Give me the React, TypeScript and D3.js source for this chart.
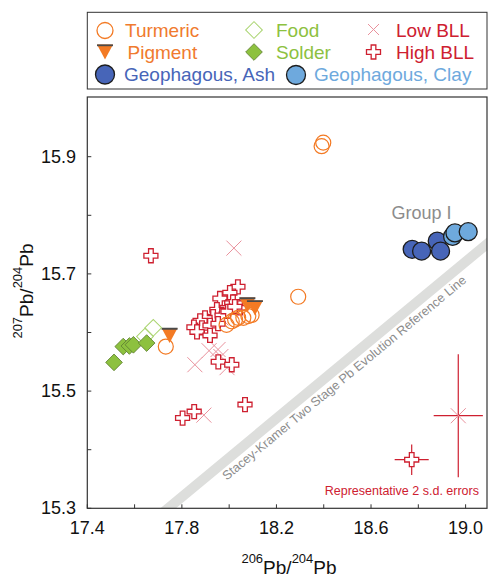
import React from 'react';
import * as d3 from 'd3';

const W = 488;
const H = 578;

const xTickValues = [17.4, 17.6, 17.8, 18.0, 18.2, 18.4, 18.6, 18.8, 19.0];
const xTickLabels = [17.4, 17.8, 18.2, 18.6, 19.0];
const yTickValues = [15.3, 15.4, 15.5, 15.6, 15.7, 15.8, 15.9];
const yTickLabels = [15.3, 15.5, 15.7, 15.9];

const turmeric: [number, number][] = [
  [18.398, 15.924], [18.391, 15.918], [18.292, 15.661], [17.732, 15.576],
  [17.989, 15.613], [18.011, 15.619], [18.025, 15.622], [18.038, 15.625],
  [18.06, 15.625], [18.081, 15.628], [18.095, 15.63],
];
const pigment: [number, number][] = [
  [18.077, 15.647], [18.109, 15.642], [17.748, 15.595],
];
const food: [number, number][] = [
  [17.679, 15.608], [17.644, 15.593],
];
const solder: [number, number][] = [
  [17.513, 15.549], [17.552, 15.576], [17.578, 15.577], [17.595, 15.579], [17.651, 15.582],
];
const lowBLL: [number, number][] = [
  [18.02, 15.744], [17.855, 15.545], [17.915, 15.569], [17.953, 15.571],
  [17.965, 15.559], [17.991, 15.54], [17.893, 15.459], [17.965, 15.625],
];
const highBLL: [number, number][] = [
  [17.669, 15.731], [17.954, 15.55], [18.011, 15.545], [18.067, 15.477],
  [17.803, 15.454], [17.852, 15.465],
  [18.037, 15.678], [18.003, 15.668], [17.961, 15.658], [18.016, 15.652],
  [18.046, 15.642], [17.991, 15.642], [17.948, 15.639], [17.932, 15.627],
  [17.97, 15.629], [17.898, 15.625], [17.877, 15.62], [17.851, 15.609],
  [17.885, 15.608], [17.919, 15.612], [17.953, 15.615], [17.864, 15.601],
  [17.919, 15.595], [17.995, 15.636], [18.024, 15.644],
];
const geoAsh: [number, number][] = [
  [18.774, 15.742], [18.814, 15.739], [18.88, 15.756], [18.894, 15.739],
];
const geoClay: [number, number][] = [
  [18.945, 15.764], [18.955, 15.77], [19.011, 15.772],
];
// representative 2 s.d. errors: [x, y, errX, errY]
const errLow: [number, number, number, number] = [18.969, 15.458, 0.104, 0.105];
const errHigh: [number, number, number, number] = [18.772, 15.383, 0.072, 0.026];
// Stacey-Kramer reference line endpoints
const skLine: [number, number][] = [[17.7, 15.286], [19.15, 15.771]];

const C = {
  orange: '#F37A24',
  orangeText: '#F07A2E',
  green: '#8DC13F',
  greenLight: '#A9D46F',
  red: '#CE2030',
  pink: '#E9919C',
  ash: '#4765B8',
  clay: '#6EA9DD',
  gray: '#8C8C8C',
  band: '#DDDEDC',
};

const FONT = '"Liberation Sans", Arial, Helvetica, sans-serif';

const L = { left: 87.3, right: 487, top: 97, bottom: 508.3 };

const x = d3.scaleLinear().domain([17.4, 19.0]).range([87.3, 465.6]);
const y = d3.scaleLinear().domain([15.3, 15.9]).range([508.3, 156.7]);

const crossPath = d3.symbol(d3.symbolCross, 109)() as string;
const squarePath = d3.symbol(d3.symbolSquare, 139)() as string;
const timesPath = (s: number) => `M${-s},${-s}L${s},${s}M${-s},${s}L${s},${-s}`;
const triPath = (w: number, h: number) => `M${-w / 2},${-h / 2}L${w / 2},${-h / 2}L0,${h / 2}Z`;

function Circle({ cx, cy, r, fill, stroke, sw }: any) {
  return <circle cx={cx} cy={cy} r={r} fill={fill} stroke={stroke} strokeWidth={sw} />;
}

function Triangle({ cx, cy }: { cx: number; cy: number }) {
  const w = 16, h = 15;
  return (
    <g transform={`translate(${cx},${cy})`}>
      <path d={triPath(w, h)} fill={C.orange} />
      <line x1={-w / 2} x2={w / 2} y1={-h / 2 + 0.8} y2={-h / 2 + 0.8} stroke="#4a4a4a" strokeWidth={1.8} />
    </g>
  );
}

function Diamond({ cx, cy, filled }: { cx: number; cy: number; filled: boolean }) {
  return (
    <path
      d={squarePath}
      transform={`translate(${cx},${cy}) rotate(45)`}
      fill={filled ? C.green : 'none'}
      stroke={filled ? '#5f7f32' : C.greenLight}
      strokeWidth={filled ? 0.8 : 1}
    />
  );
}

function Cross({ cx, cy }: { cx: number; cy: number }) {
  return <path d={crossPath} transform={`translate(${cx},${cy})`} fill="#fff" stroke={C.red} strokeWidth={1.3} />;
}

function Times({ cx, cy, s = 8 }: { cx: number; cy: number; s?: number }) {
  return <path d={timesPath(s)} transform={`translate(${cx},${cy})`} stroke={C.pink} strokeWidth={1} fill="none" />;
}

export default function App() {
  const skAngle = (Math.atan2(y(skLine[1][1]) - y(skLine[0][1]), x(skLine[1][0]) - x(skLine[0][0])) * 180) / Math.PI;
  return (
    <svg
      width={W}
      height={H}
      style={{ position: 'absolute', left: 0, top: 0, background: '#fff' }}
      fontFamily={FONT}
    >
      <defs>
        <clipPath id="plotClip">
          <rect x={L.left} y={L.top} width={L.right - L.left} height={L.bottom - L.top} />
        </clipPath>
      </defs>

      {/* Legend */}
      <rect x={87.3} y={12.3} width={487 - 87.3} height={76.7} fill="#fff" stroke="#333" strokeWidth={1} />
      <Circle cx={105} cy={30.5} r={8} fill="none" stroke={C.orange} sw={1.3} />
      <text x={125} y={36.5} fontSize={19} fill={C.orangeText}>Turmeric</text>
      <Triangle cx={105} cy={52} />
      <text x={127.5} y={59} fontSize={19} fill={C.orangeText}>Pigment</text>
      <Circle cx={105} cy={74.5} r={9.5} fill={C.ash} stroke="#1d1d1d" sw={1.3} />
      <text x={124} y={81} fontSize={19} fill={C.ash}>Geophagous, Ash</text>

      <Diamond cx={254} cy={30} filled={false} />
      <text x={276} y={36.5} fontSize={19} fill={C.green}>Food</text>
      <Diamond cx={254} cy={52} filled={true} />
      <text x={276} y={59} fontSize={19} fill={C.green}>Solder</text>
      <Circle cx={296} cy={75} r={9.5} fill={C.clay} stroke="#1d1d1d" sw={1.3} />
      <text x={314} y={81} fontSize={19} fill={C.clay}>Geophagous, Clay</text>

      <Times cx={373.5} cy={29.5} s={5.5} />
      <text x={396} y={36.5} fontSize={19} fill={C.red}>Low BLL</text>
      <Cross cx={373.5} cy={52} />
      <text x={396} y={59} fontSize={19} fill={C.red}>High BLL</text>

      {/* Plot area */}
      <g clipPath="url(#plotClip)">
        <line
          x1={x(skLine[0][0])}
          y1={y(skLine[0][1])}
          x2={x(skLine[1][0])}
          y2={y(skLine[1][1])}
          stroke={C.band}
          strokeWidth={10}
        />
      </g>
      <text
        transform={`translate(${x(17.99)},${y(15.347)}) rotate(${skAngle})`}
        fontSize={12.7}
        fill={C.gray}
      >
        Stacey-Kramer Two Stage Pb Evolution Reference Line
      </text>
      <text x={x(18.687)} y={y(15.794)} fontSize={18} fill={C.gray}>Group I</text>

      {/* frame */}
      <rect x={L.left} y={L.top} width={L.right - L.left} height={L.bottom - L.top} fill="none" stroke="#333" strokeWidth={1.2} />

      {/* ticks */}
      {xTickValues.map((v) => (
        <line key={'xt' + v} x1={x(v)} x2={x(v)} y1={L.bottom} y2={L.bottom - 4} stroke="#333" strokeWidth={1} />
      ))}
      {yTickValues.map((v) => (
        <line key={'yt' + v} x1={L.left} x2={L.left + 4} y1={y(v)} y2={y(v)} stroke="#333" strokeWidth={1} />
      ))}
      {xTickLabels.map((v) => (
        <text key={'xl' + v} x={x(v)} y={534} fontSize={18} textAnchor="middle" fill="#111">
          {v.toFixed(1)}
        </text>
      ))}
      {yTickLabels.map((v) => (
        <text key={'yl' + v} x={76} y={y(v) + 6} fontSize={18} textAnchor="end" fill="#111">
          {v.toFixed(1)}
        </text>
      ))}

      {/* axis titles */}
      <text x={289} y={574} textAnchor="middle" fill="#111">
        <tspan fontSize={13} dy={-11}>206</tspan>
        <tspan fontSize={19} dy={11}>Pb/</tspan>
        <tspan fontSize={13} dy={-11}>204</tspan>
        <tspan fontSize={19} dy={11}>Pb</tspan>
      </text>
      <text transform="translate(33,291) rotate(-90)" textAnchor="middle" fill="#111">
        <tspan fontSize={13} dy={-11}>207</tspan>
        <tspan fontSize={19} dy={11}>Pb/</tspan>
        <tspan fontSize={13} dy={-11}>204</tspan>
        <tspan fontSize={19} dy={11}>Pb</tspan>
      </text>

      {/* data */}
      <g clipPath="url(#plotClip)">
        {lowBLL.map(([a, b], i) => (
          <Times key={'lb' + i} cx={x(a)} cy={y(b)} s={7.5} />
        ))}
        {highBLL.map(([a, b], i) => (
          <Cross key={'hb' + i} cx={x(a)} cy={y(b)} />
        ))}
        {turmeric.map(([a, b], i) => (
          <Circle key={'tu' + i} cx={x(a)} cy={y(b)} r={7.5} fill="none" stroke={C.orange} sw={1.2} />
        ))}
        {pigment.map(([a, b], i) => (
          <Triangle key={'pg' + i} cx={x(a)} cy={y(b)} />
        ))}
        {food.map(([a, b], i) => (
          <Diamond key={'fd' + i} cx={x(a)} cy={y(b)} filled={false} />
        ))}
        {solder.map(([a, b], i) => (
          <Diamond key={'sd' + i} cx={x(a)} cy={y(b)} filled={true} />
        ))}
        {geoAsh.map(([a, b], i) => (
          <Circle key={'ga' + i} cx={x(a)} cy={y(b)} r={9} fill={C.ash} stroke="#1d1d1d" sw={1.3} />
        ))}
        {geoClay.map(([a, b], i) => (
          <Circle key={'gc' + i} cx={x(a)} cy={y(b)} r={9} fill={C.clay} stroke="#1d1d1d" sw={1.3} />
        ))}

        {/* representative errors */}
        <g stroke={C.red} strokeWidth={1.2}>
          <line x1={x(errLow[0] - errLow[2])} x2={x(errLow[0] + errLow[2])} y1={y(errLow[1])} y2={y(errLow[1])} />
          <line x1={x(errLow[0])} x2={x(errLow[0])} y1={y(errLow[1] - errLow[3])} y2={y(errLow[1] + errLow[3])} />
          <line x1={x(errHigh[0] - errHigh[2])} x2={x(errHigh[0] + errHigh[2])} y1={y(errHigh[1])} y2={y(errHigh[1])} />
          <line x1={x(errHigh[0])} x2={x(errHigh[0])} y1={y(errHigh[1] - errHigh[3])} y2={y(errHigh[1] + errHigh[3])} />
        </g>
        <Times cx={x(errLow[0])} cy={y(errLow[1])} s={7.5} />
        <Cross cx={x(errHigh[0])} cy={y(errHigh[1])} />
      </g>
      <text x={479} y={495} fontSize={12.5} textAnchor="end" fill={C.red}>Representative 2 s.d. errors</text>
    </svg>
  );
}
